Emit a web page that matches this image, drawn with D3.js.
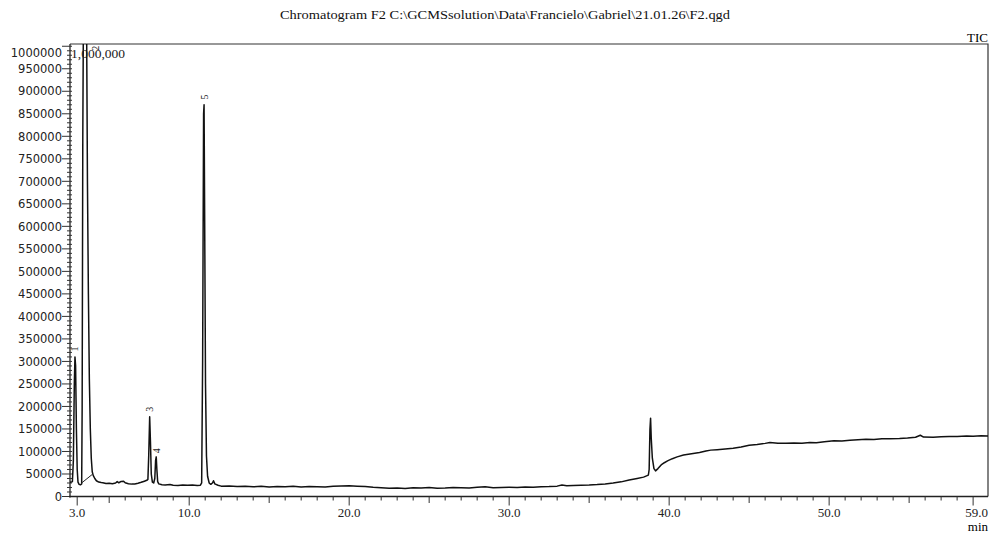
<!DOCTYPE html>
<html>
<head>
<meta charset="utf-8">
<script src="https://cdn.jsdelivr.net/npm/d3@7"></script>
<style>
  html, body { margin: 0; padding: 0; background: #fff; }
  svg { display: block; }
</style>
</head>
<body>
<svg id="chart" width="992" height="535"></svg>
<script>
// ---- data ----
const titleText = "Chromatogram F2 C:\\GCMSsolution\\Data\\Francielo\\Gabriel\\21.01.26\\F2.qgd";
const timeDomain = [2.55, 59.93];
const intensityDomain = [0, 1005000];
const yTickValues = [0,50000,100000,150000,200000,250000,300000,350000,400000,450000,500000,550000,600000,650000,700000,750000,800000,850000,900000,950000,1000000];
const xTickLabels = [3.0, 10.0, 20.0, 30.0, 40.0, 50.0, 59.0];

const times = [
  2.55,2.62,2.70,2.76,2.82,2.86,2.90,2.95,3.00,3.05,3.12,3.20,3.28,3.31,3.35,3.40,3.50,3.58,3.64,3.70,3.76,3.82,3.88,3.94,4.00,4.10,4.20,4.35,4.50,
  4.6,4.8,5.0,5.2,5.4,5.5,5.6,5.75,5.9,6.0,6.2,6.4,6.6,6.8,7.0,7.2,7.35,7.42,7.47,7.53,7.58,7.63,7.70,7.78,7.85,7.90,7.94,7.98,8.03,8.10,
  8.3,8.5,8.8,9.0,9.3,9.6,9.9,10.2,10.5,10.7,10.78,10.84,10.90,10.93,10.97,11.02,11.08,11.15,11.25,11.35,11.45,11.52,11.60,11.8,
  12.0,12.5,13,13.5,14,14.5,15,15.5,16,16.5,17,17.5,18,18.5,19,19.5,20,20.5,21,21.5,22,22.5,23,23.5,24,24.5,25,25.5,26,26.5,27,27.5,
  28,28.5,29,29.5,30,30.5,31,31.5,32,32.5,33,33.3,33.6,34,34.5,35,35.5,36,36.5,37,37.5,38,38.4,38.7,38.75,38.80,38.84,38.88,38.95,
  39.05,39.15,39.3,39.5,39.7,39.9,40.2,40.5,40.9,41.3,41.9,42.3,42.6,43.0,43.5,44.0,44.5,45.0,45.5,46.0,46.3,46.8,47.3,47.8,48.3,48.8,
  49.2,49.7,50.3,50.8,51.3,51.8,52.3,52.8,53.3,53.8,54.4,54.9,55.4,55.7,55.9,56.5,57.0,57.5,58.0,58.6,59.0,59.5,59.93
];
const intensities = [
  31500,32000,33000,80000,250000,310000,290000,150000,60000,32000,27000,26000,28000,200000,800000,1150000,1250000,1100000,700000,450000,260000,150000,85000,55000,47000,40000,35000,32000,31000,
  30500,29000,29500,28500,30000,33000,30500,33500,34000,30500,28500,27500,28000,29500,31500,34000,36000,38000,90000,177000,120000,50000,32000,30000,40000,80000,88000,60000,33000,28000,
  26000,25500,26500,25000,24500,25500,25000,25500,24500,25000,30000,300000,850000,870000,600000,250000,90000,45000,30000,27000,30000,35000,28000,25000,
  23000,23500,22000,23000,21500,22500,21000,22000,21500,22500,21000,22000,21500,21000,22500,23500,24000,23000,22000,20500,19500,18500,19000,18000,19500,19000,20000,18500,19000,20000,19500,19000,
  20500,21500,19500,20000,20500,20000,21000,20500,21500,22000,23000,25500,24000,24500,25000,25500,26500,28000,30000,32500,36500,40000,43000,47500,60000,150000,174000,130000,85000,
  62000,57000,62000,70000,75000,79000,84000,88000,92000,94500,97500,101000,103000,104000,105500,107000,110000,114000,115500,118000,120000,118500,118000,119000,118500,120000,
  119500,121500,124000,123500,125000,126000,127000,126500,128000,128500,129000,130000,131500,136000,132000,131500,132500,133000,133500,134500,134000,135000,134500
];

// integration baseline drawn under peak 2
const baselineTimes = [3.24, 3.94];
const baselineIntensities = [29000, 49000];

// peak labels
const peakNames = ["1", "2", "3", "4", "5"];
const peakTimes = [2.86, 4.15, 7.53, 7.94, 10.93];
const peakLabelIntensities = [322000, 990000, 188000, 96000, 882000];

// ---- layout ----
const svg = d3.select("#chart");
const mLeft = 70, mRight = 988, mTop = 44, mBottom = 496.5;
const serif = "'Liberation Serif', 'Times New Roman', serif";
const sans = "'DejaVu Sans', sans-serif";

const x = d3.scaleLinear().domain(timeDomain).range([mLeft, mRight]);
const y = d3.scaleLinear().domain(intensityDomain).range([mBottom, mTop]);

// title
svg.append("text")
  .attr("x", 505).attr("y", 19)
  .attr("text-anchor", "middle")
  .attr("font-family", serif).attr("font-size", 13.5)
  .attr("textLength", 450).attr("lengthAdjust", "spacingAndGlyphs")
  .attr("fill", "#111")
  .text(titleText);

svg.append("text")
  .attr("x", mRight).attr("y", 41.5)
  .attr("text-anchor", "end")
  .attr("font-family", serif).attr("font-size", 13)
  .text("TIC");

svg.append("text")
  .attr("x", mRight).attr("y", 531)
  .attr("text-anchor", "end")
  .attr("font-family", serif).attr("font-size", 13)
  .text("min");

// clip
svg.append("clipPath").attr("id", "plotclip")
  .append("rect").attr("x", mLeft).attr("y", mTop).attr("width", mRight - mLeft).attr("height", mBottom - mTop);

// frame (top + right)
svg.append("path")
  .attr("d", `M${mLeft},${mTop}H${mRight}V${mBottom}`)
  .attr("fill", "none").attr("stroke", "#333").attr("stroke-width", 1.2);

// y axis
const yMinor = d3.range(0, 1005001, 10000);
const yAxisG = svg.append("g");
yAxisG.append("line").attr("x1", mLeft).attr("x2", mLeft).attr("y1", mTop).attr("y2", mBottom + 1)
  .attr("stroke", "#222").attr("stroke-width", 1.3);
yAxisG.selectAll("line.minor").data(yMinor.filter(v => v % 50000 !== 0)).join("line")
  .attr("class", "minor")
  .attr("x1", mLeft - 3).attr("x2", mLeft + 2)
  .attr("y1", d => y(d)).attr("y2", d => y(d))
  .attr("stroke", "#333").attr("stroke-width", 1);
yAxisG.selectAll("line.major").data(yTickValues).join("line")
  .attr("class", "major")
  .attr("x1", mLeft - 8).attr("x2", mLeft + 2)
  .attr("y1", d => y(d)).attr("y2", d => y(d))
  .attr("stroke", "#333").attr("stroke-width", 1);
yAxisG.selectAll("text").data(yTickValues).join("text")
  .attr("x", mLeft - 8)
  .attr("y", d => d === 1000000 ? 57 : y(d) + 4.2)
  .attr("text-anchor", "end")
  .attr("font-family", sans).attr("font-size", 11.5)
  .attr("fill", "#222")
  .text(d => d3.format("d")(d));

// x axis
const xAxisG = svg.append("g");
xAxisG.append("line").attr("x1", mLeft - 1).attr("x2", mRight).attr("y1", mBottom).attr("y2", mBottom)
  .attr("stroke", "#222").attr("stroke-width", 1.3);
const xMinor = d3.range(3, 60, 1);
xAxisG.selectAll("line.tick").data(xMinor).join("line")
  .attr("class", "tick")
  .attr("x1", d => x(d)).attr("x2", d => x(d))
  .attr("y1", mBottom)
  .attr("y2", d => mBottom + ((d % 10 === 0 || d === 3 || d === 59) ? 9 : (d % 5 === 0 ? 6.5 : 4)))
  .attr("stroke", "#333").attr("stroke-width", 1);
xAxisG.selectAll("text").data(xTickLabels).join("text")
  .attr("x", d => d === 59 ? mRight : x(d))
  .attr("y", 517)
  .attr("text-anchor", d => d === 59 ? "end" : "middle")
  .attr("font-family", serif).attr("font-size", 13)
  .attr("fill", "#222")
  .text(d => d3.format(".1f")(d));

// trace
const pts = times.map((t, i) => [t, intensities[i]]);
const line = d3.line().x(d => x(d[0])).y(d => y(d[1]));
const plot = svg.append("g").attr("clip-path", "url(#plotclip)");
plot.append("path")
  .datum(pts)
  .attr("d", line)
  .attr("fill", "none")
  .attr("stroke", "#111")
  .attr("stroke-width", 1.5)
  .attr("stroke-linejoin", "round");

plot.append("path")
  .datum(baselineTimes.map((t, i) => [t, baselineIntensities[i]]))
  .attr("d", line)
  .attr("fill", "none")
  .attr("stroke", "#222")
  .attr("stroke-width", 1);

// scale annotation
svg.append("text")
  .attr("x", 71).attr("y", 58)
  .attr("font-family", serif).attr("font-size", 13.5)
  .attr("fill", "#222")
  .text("1,000,000");

// peak labels (rotated)
svg.append("g").selectAll("text").data(peakNames).join("text")
  .attr("transform", (d, i) => `translate(${x(peakTimes[i]) + 3.5},${y(peakLabelIntensities[i])}) rotate(-90)`)
  .attr("text-anchor", "start")
  .attr("font-family", serif).attr("font-size", 10)
  .attr("fill", "#222")
  .text(d => d);
</script>
</body>
</html>
